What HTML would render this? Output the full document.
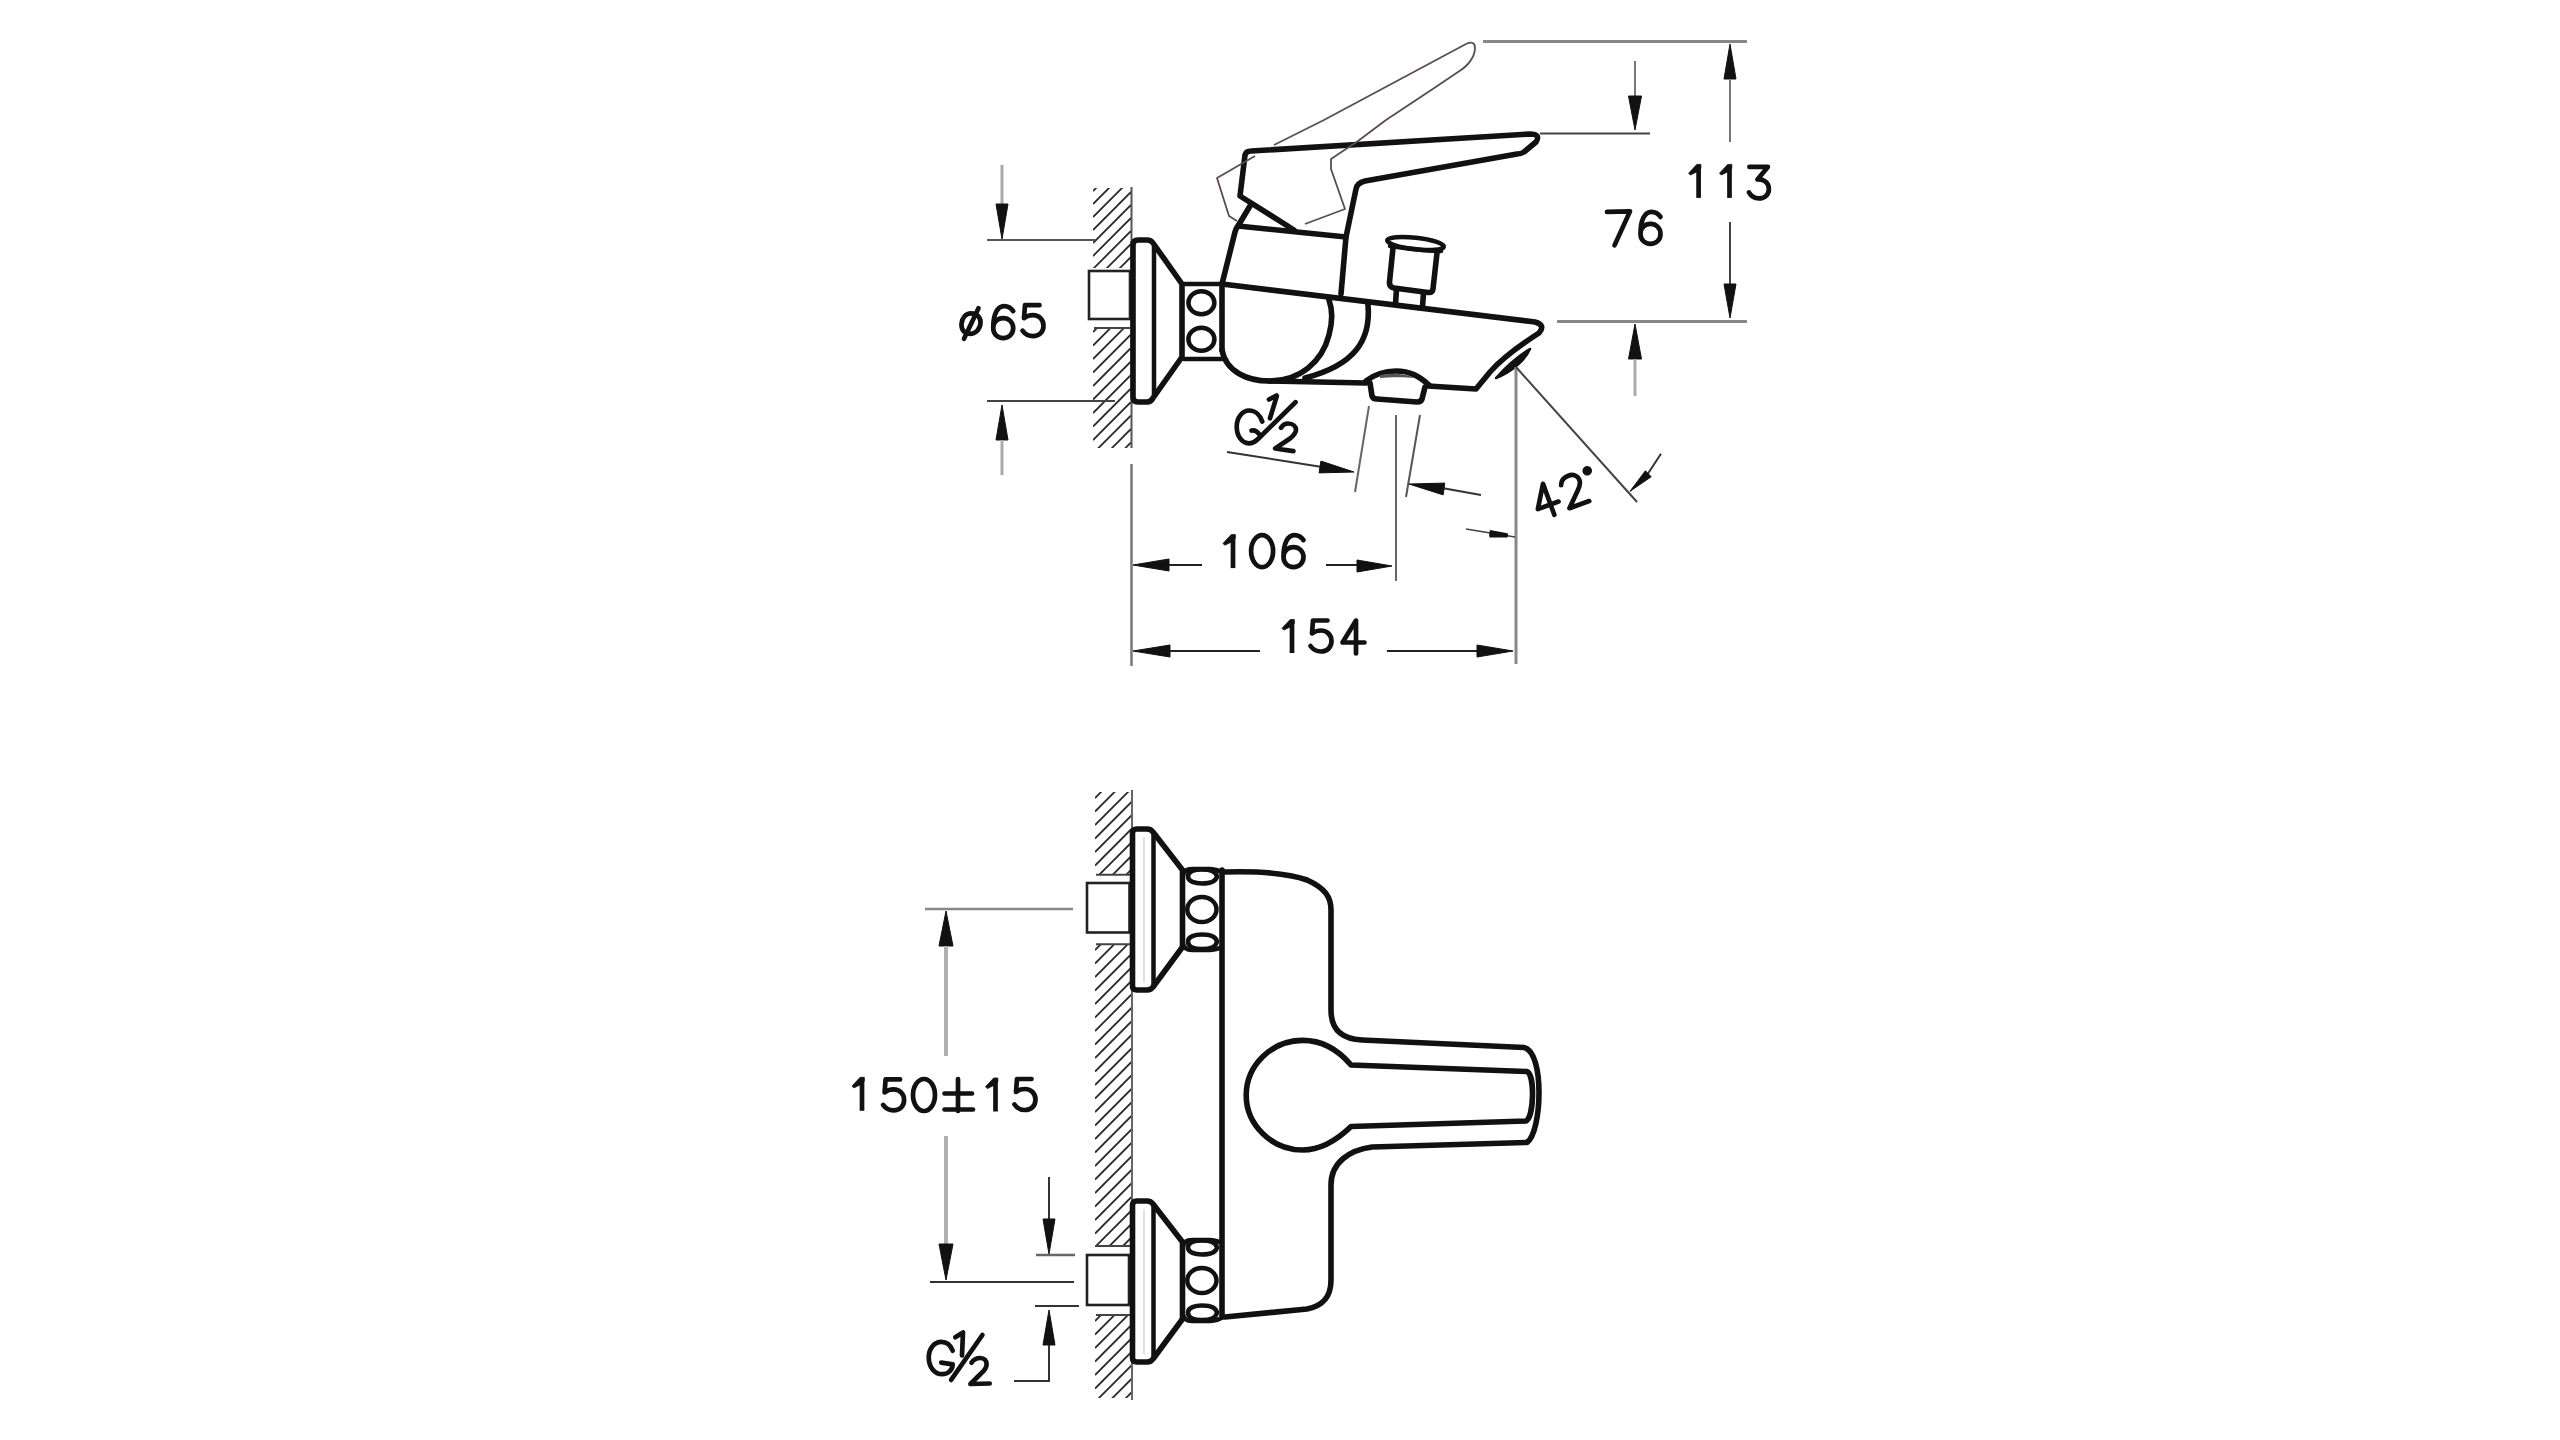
<!DOCTYPE html>
<html><head><meta charset="utf-8"><style>
html,body{margin:0;padding:0;background:#fff;width:2560px;height:1440px;overflow:hidden}
svg{display:block}
</style></head><body>
<svg width="2560" height="1440" viewBox="0 0 2560 1440">
<rect width="2560" height="1440" fill="#fff"/>
<clipPath id="hc1"><rect x="1093" y="188" width="38" height="80"/></clipPath>
<g clip-path="url(#hc1)" stroke="#2a2a2a" stroke-width="1.8"><line x1="1093" y1="191.0" x2="1131" y2="153.0"/><line x1="1093" y1="204.0" x2="1131" y2="166.0"/><line x1="1093" y1="217.0" x2="1131" y2="179.0"/><line x1="1093" y1="230.0" x2="1131" y2="192.0"/><line x1="1093" y1="243.0" x2="1131" y2="205.0"/><line x1="1093" y1="256.0" x2="1131" y2="218.0"/><line x1="1093" y1="269.0" x2="1131" y2="231.0"/><line x1="1093" y1="282.0" x2="1131" y2="244.0"/><line x1="1093" y1="295.0" x2="1131" y2="257.0"/></g>
<clipPath id="hc2"><rect x="1093" y="328" width="38" height="120"/></clipPath>
<g clip-path="url(#hc2)" stroke="#2a2a2a" stroke-width="1.8"><line x1="1093" y1="332.0" x2="1131" y2="294.0"/><line x1="1093" y1="345.5" x2="1131" y2="307.5"/><line x1="1093" y1="359.0" x2="1131" y2="321.0"/><line x1="1093" y1="372.5" x2="1131" y2="334.5"/><line x1="1093" y1="386.0" x2="1131" y2="348.0"/><line x1="1093" y1="399.5" x2="1131" y2="361.5"/><line x1="1093" y1="413.0" x2="1131" y2="375.0"/><line x1="1093" y1="426.5" x2="1131" y2="388.5"/><line x1="1093" y1="440.0" x2="1131" y2="402.0"/><line x1="1093" y1="453.5" x2="1131" y2="415.5"/><line x1="1093" y1="467.0" x2="1131" y2="429.0"/><line x1="1093" y1="480.5" x2="1131" y2="442.5"/></g>
<line x1="1131.5" y1="187" x2="1131.5" y2="448" stroke="#555" stroke-width="2"/>
<line x1="1094" y1="328" x2="1130" y2="328" stroke="#444" stroke-width="2"/>
<rect x="1089" y="271" width="41" height="48" fill="none" stroke="#222" stroke-width="2.6"/>
<path d="M1133,245 Q1133,240 1138,240 L1147,240 Q1151,240 1153,243 L1182,284 L1182,357 L1153,398 Q1151,402 1147,402 L1138,402 Q1133,402 1133,397 Z" fill="none" stroke="#111" stroke-width="5.6" stroke-linejoin="round" stroke-linecap="round"/>
<path d="M1154,246 L1154,396" fill="none" stroke="#111" stroke-width="4.5" stroke-linejoin="round" stroke-linecap="round"/>
<path d="M1184,284 L1222,284 M1184,359 L1222,359" fill="none" stroke="#111" stroke-width="4.5" stroke-linejoin="round" stroke-linecap="round"/>
<ellipse cx="1201.4" cy="302.8" rx="13" ry="11.5" fill="none" stroke="#111" stroke-width="4.5" stroke-linejoin="round" stroke-linecap="round"/>
<ellipse cx="1201.4" cy="339.3" rx="13" ry="11.5" fill="none" stroke="#111" stroke-width="4.5" stroke-linejoin="round" stroke-linecap="round"/>
<path d="M1250,206 L1238,226 Q1236,228 1235,232 L1222,284 L1222,350" fill="none" stroke="#111" stroke-width="5.6" stroke-linejoin="round" stroke-linecap="round"/>
<path d="M1238,226 L1346,237" fill="none" stroke="#111" stroke-width="5.6" stroke-linejoin="round" stroke-linecap="round"/>
<path d="M1294,230 L1240,196 L1245,155 Q1246,151 1251,151 L1530,134 Q1541,134 1536,142 L1524,152 Q1521,154 1517,154 L1365,181 Q1357,183 1356,189 L1346,237 L1341,294" fill="none" stroke="#111" stroke-width="5.6" stroke-linejoin="round" stroke-linecap="round"/>
<path d="M1222,284 L1535,322 Q1546,325 1539,333 C1525,342 1505,355 1490,372 L1476,389 L1428,386" fill="none" stroke="#111" stroke-width="5.6" stroke-linejoin="round" stroke-linecap="round"/>
<path d="M1366,383 L1269,381" fill="none" stroke="#111" stroke-width="5.6" stroke-linejoin="round" stroke-linecap="round"/>
<path d="M1222,350 C1226,372 1248,381 1269,381 C1300,381 1322,362 1329,335 C1333,320 1332,308 1329,300" fill="none" stroke="#111" stroke-width="5.6" stroke-linejoin="round" stroke-linecap="round"/>
<path d="M1368,305 C1371,340 1355,365 1305,378" fill="none" stroke="#111" stroke-width="5.6" stroke-linejoin="round" stroke-linecap="round"/>
<path d="M1366,381 C1375,374 1385,371 1396,371 C1410,371 1419,376 1429,385" fill="none" stroke="#111" stroke-width="5.6" stroke-linejoin="round" stroke-linecap="round"/>
<path d="M1380,375 C1390,373 1405,373 1415,378 C1405,377 1390,377 1380,378Z" fill="#555"/>
<path d="M1370,383 L1372,396 Q1373,399 1377,399 L1417,402 Q1421,402 1422,399 L1425,387" fill="none" stroke="#111" stroke-width="5.6" stroke-linejoin="round" stroke-linecap="round"/>
<ellipse cx="1415.5" cy="243.5" rx="28.5" ry="5.8" transform="rotate(6.5 1415.5 243.5)" fill="none" stroke="#111" stroke-width="4.5" stroke-linejoin="round" stroke-linecap="round" stroke-width="3.4"/>
<path d="M1390,246 C1405,248 1425,251 1441,251" fill="none" stroke="#111" stroke-width="4.5" stroke-linejoin="round" stroke-linecap="round" stroke-width="3"/>
<path d="M1393,248 L1389.5,282 Q1389,287 1394,288 L1428,292.5 Q1432.5,293 1433,289 L1437,253" fill="none" stroke="#111" stroke-width="5.6" stroke-linejoin="round" stroke-linecap="round" stroke-width="5.8"/>
<path d="M1396.5,289 L1395.5,304 M1423.5,293 L1422.5,307" fill="none" stroke="#111" stroke-width="5.6" stroke-linejoin="round" stroke-linecap="round" stroke-width="5.8"/>
<path d="M1496,378 C1505,368 1518,356 1530,349 C1525,360 1512,372 1496,378 Z" fill="#111" stroke="#111" stroke-width="2.5" stroke-linejoin="round"/>
<path d="M1274,145 L1324,120 L1466,44 Q1475,40 1475,48 C1475,57 1468,66 1458,72 L1435,87.5 L1386,120 L1358,141 L1331,159 L1331,169 L1345,209 L1305,224" fill="none" stroke="#5c4c4c" stroke-width="1.8" stroke-linejoin="round"/>
<path d="M1255,156 L1217,178 L1229,216 L1237,221" fill="none" stroke="#5c4c4c" stroke-width="1.8" stroke-linejoin="round"/>
<line x1="987" y1="240" x2="1095" y2="240" stroke="#555" stroke-width="2"/>
<line x1="987" y1="401" x2="1115" y2="401" stroke="#444" stroke-width="2"/>
<line x1="1002" y1="165" x2="1002" y2="205" stroke="#aaa" stroke-width="3"/>
<path d="M1002.0,239.0 L996.0,204.0 L1008.0,204.0Z" fill="#111" stroke="#111" stroke-width="1" stroke-linejoin="round"/>
<path d="M1002.0,405.0 L1008.0,440.0 L996.0,440.0Z" fill="#111" stroke="#111" stroke-width="1" stroke-linejoin="round"/>
<line x1="1002" y1="440" x2="1002" y2="475" stroke="#aaa" stroke-width="3"/>
<line x1="1483" y1="41.5" x2="1747" y2="41.5" stroke="#888" stroke-width="3"/>
<path d="M1730.0,44.0 L1736.0,79.0 L1724.0,79.0Z" fill="#111" stroke="#111" stroke-width="1" stroke-linejoin="round"/>
<line x1="1730" y1="80" x2="1730" y2="142" stroke="#777" stroke-width="2"/>
<line x1="1730" y1="222" x2="1730" y2="284" stroke="#444" stroke-width="2"/>
<path d="M1730.0,318.0 L1724.0,284.0 L1736.0,284.0Z" fill="#111" stroke="#111" stroke-width="1" stroke-linejoin="round"/>
<line x1="1557" y1="321.5" x2="1747" y2="321.5" stroke="#888" stroke-width="3"/>
<line x1="1540" y1="133.6" x2="1650" y2="133.6" stroke="#444" stroke-width="2"/>
<line x1="1635" y1="61" x2="1635" y2="96" stroke="#777" stroke-width="2"/>
<path d="M1635.0,130.0 L1628.5,96.0 L1641.5,96.0Z" fill="#111" stroke="#111" stroke-width="1" stroke-linejoin="round"/>
<path d="M1635.0,324.0 L1641.5,359.0 L1628.5,359.0Z" fill="#111" stroke="#111" stroke-width="1" stroke-linejoin="round"/>
<line x1="1635" y1="359" x2="1635" y2="396" stroke="#aaa" stroke-width="3"/>
<line x1="1227" y1="452" x2="1322" y2="467" stroke="#333" stroke-width="2"/>
<path d="M1354.0,472.0 L1319.1,472.9 L1320.9,461.1Z" fill="#111" stroke="#111" stroke-width="1" stroke-linejoin="round"/>
<line x1="1369" y1="406" x2="1355" y2="492" stroke="#666" stroke-width="2"/>
<line x1="1420" y1="415" x2="1406" y2="497" stroke="#555" stroke-width="2"/>
<line x1="1481" y1="495" x2="1442" y2="488" stroke="#333" stroke-width="2"/>
<path d="M1409.0,484.0 L1444.8,483.1 L1443.2,494.9Z" fill="#111" stroke="#111" stroke-width="1" stroke-linejoin="round"/>
<line x1="1396" y1="415" x2="1396" y2="581" stroke="#666" stroke-width="2"/>
<line x1="1131.5" y1="464" x2="1131.5" y2="666" stroke="#777" stroke-width="2.5"/>
<line x1="1516" y1="367" x2="1516" y2="664" stroke="#888" stroke-width="3"/>
<line x1="1516" y1="367" x2="1637" y2="502" stroke="#444" stroke-width="2"/>
<path d="M1133.0,565.0 L1169.0,559.0 L1169.0,571.0Z" fill="#111" stroke="#111" stroke-width="1" stroke-linejoin="round"/>
<line x1="1169" y1="565" x2="1202" y2="565" stroke="#222" stroke-width="2"/>
<line x1="1326" y1="565" x2="1357" y2="565" stroke="#222" stroke-width="2"/>
<path d="M1392.0,566.0 L1357.0,572.0 L1357.0,560.0Z" fill="#111" stroke="#111" stroke-width="1" stroke-linejoin="round"/>
<path d="M1133.0,651.0 L1170.0,645.0 L1170.0,657.0Z" fill="#111" stroke="#111" stroke-width="1" stroke-linejoin="round"/>
<line x1="1170" y1="651" x2="1260" y2="651" stroke="#222" stroke-width="2"/>
<line x1="1387" y1="651" x2="1477" y2="651" stroke="#222" stroke-width="2"/>
<path d="M1513.0,651.0 L1477.0,657.0 L1477.0,645.0Z" fill="#111" stroke="#111" stroke-width="1" stroke-linejoin="round"/>
<line x1="1466" y1="529" x2="1515" y2="537" stroke="#444" stroke-width="1.6"/>
<path d="M1490,530 L1507.5,533.2 Q1509,535 1507.5,537.6 L1489.5,537.6 Q1488.5,534 1490,530 Z" fill="#111"/>
<line x1="1661" y1="453.8" x2="1647" y2="475" stroke="#333" stroke-width="2"/>
<path d="M1630.0,491.3 L1645.4,470.8 L1651.2,476.8Z" fill="#111" stroke="#111" stroke-width="1" stroke-linejoin="round"/>
<clipPath id="hc3"><rect x="1095" y="792" width="37" height="83"/></clipPath>
<g clip-path="url(#hc3)" stroke="#2a2a2a" stroke-width="1.8"><line x1="1095" y1="798.0" x2="1132" y2="761.0"/><line x1="1095" y1="811.5" x2="1132" y2="774.5"/><line x1="1095" y1="825.0" x2="1132" y2="788.0"/><line x1="1095" y1="838.5" x2="1132" y2="801.5"/><line x1="1095" y1="852.0" x2="1132" y2="815.0"/><line x1="1095" y1="865.5" x2="1132" y2="828.5"/><line x1="1095" y1="879.0" x2="1132" y2="842.0"/><line x1="1095" y1="892.5" x2="1132" y2="855.5"/><line x1="1095" y1="906.0" x2="1132" y2="869.0"/></g>
<clipPath id="hc4"><rect x="1095" y="944" width="37" height="303"/></clipPath>
<g clip-path="url(#hc4)" stroke="#2a2a2a" stroke-width="1.8"><line x1="1095" y1="950.0" x2="1132" y2="913.0"/><line x1="1095" y1="963.5" x2="1132" y2="926.5"/><line x1="1095" y1="977.0" x2="1132" y2="940.0"/><line x1="1095" y1="990.5" x2="1132" y2="953.5"/><line x1="1095" y1="1004.0" x2="1132" y2="967.0"/><line x1="1095" y1="1017.5" x2="1132" y2="980.5"/><line x1="1095" y1="1031.0" x2="1132" y2="994.0"/><line x1="1095" y1="1044.5" x2="1132" y2="1007.5"/><line x1="1095" y1="1058.0" x2="1132" y2="1021.0"/><line x1="1095" y1="1071.5" x2="1132" y2="1034.5"/><line x1="1095" y1="1085.0" x2="1132" y2="1048.0"/><line x1="1095" y1="1098.5" x2="1132" y2="1061.5"/><line x1="1095" y1="1112.0" x2="1132" y2="1075.0"/><line x1="1095" y1="1125.5" x2="1132" y2="1088.5"/><line x1="1095" y1="1139.0" x2="1132" y2="1102.0"/><line x1="1095" y1="1152.5" x2="1132" y2="1115.5"/><line x1="1095" y1="1166.0" x2="1132" y2="1129.0"/><line x1="1095" y1="1179.5" x2="1132" y2="1142.5"/><line x1="1095" y1="1193.0" x2="1132" y2="1156.0"/><line x1="1095" y1="1206.5" x2="1132" y2="1169.5"/><line x1="1095" y1="1220.0" x2="1132" y2="1183.0"/><line x1="1095" y1="1233.5" x2="1132" y2="1196.5"/><line x1="1095" y1="1247.0" x2="1132" y2="1210.0"/><line x1="1095" y1="1260.5" x2="1132" y2="1223.5"/><line x1="1095" y1="1274.0" x2="1132" y2="1237.0"/></g>
<clipPath id="hc5"><rect x="1095" y="1315" width="37" height="83"/></clipPath>
<g clip-path="url(#hc5)" stroke="#2a2a2a" stroke-width="1.8"><line x1="1095" y1="1321.0" x2="1132" y2="1284.0"/><line x1="1095" y1="1334.5" x2="1132" y2="1297.5"/><line x1="1095" y1="1348.0" x2="1132" y2="1311.0"/><line x1="1095" y1="1361.5" x2="1132" y2="1324.5"/><line x1="1095" y1="1375.0" x2="1132" y2="1338.0"/><line x1="1095" y1="1388.5" x2="1132" y2="1351.5"/><line x1="1095" y1="1402.0" x2="1132" y2="1365.0"/><line x1="1095" y1="1415.5" x2="1132" y2="1378.5"/><line x1="1095" y1="1429.0" x2="1132" y2="1392.0"/></g>
<line x1="1132" y1="790" x2="1132" y2="1400" stroke="#666" stroke-width="2"/>
<line x1="1096" y1="874.7" x2="1130" y2="874.7" stroke="#444" stroke-width="2"/>
<line x1="1096" y1="944.3" x2="1130" y2="944.3" stroke="#444" stroke-width="2"/>
<line x1="1096" y1="1246" x2="1130" y2="1246" stroke="#444" stroke-width="2"/>
<line x1="1096" y1="1315" x2="1130" y2="1315" stroke="#444" stroke-width="2"/>
<rect x="1087" y="883" width="42.5" height="49.5" fill="none" stroke="#222" stroke-width="2.6"/>
<rect x="1087" y="1255" width="42" height="50" fill="none" stroke="#222" stroke-width="2.6"/>
<path d="M1132.5,833 Q1132.5,829 1137,829 L1147,829 Q1151,829 1153,832 L1182.5,870 L1182.5,947 L1153,987 Q1151,990 1147,990 L1137,990 Q1132.5,990 1132.5,986 Z" fill="none" stroke="#111" stroke-width="5.6" stroke-linejoin="round" stroke-linecap="round"/>
<path d="M1153.5,833 L1153.5,986" fill="none" stroke="#111" stroke-width="4.5" stroke-linejoin="round" stroke-linecap="round"/>
<line x1="1144" y1="837" x2="1144" y2="982" stroke="#ccc" stroke-width="1.2"/>
<path d="M1132.5,1205 Q1132.5,1201 1137,1201 L1147,1201 Q1151,1201 1153,1204 L1182.5,1242 L1182.5,1319 L1153,1359 Q1151,1362 1147,1362 L1137,1362 Q1132.5,1362 1132.5,1358 Z" fill="none" stroke="#111" stroke-width="5.6" stroke-linejoin="round" stroke-linecap="round"/>
<path d="M1153.5,1205 L1153.5,1358" fill="none" stroke="#111" stroke-width="4.5" stroke-linejoin="round" stroke-linecap="round"/>
<line x1="1144" y1="1209" x2="1144" y2="1354" stroke="#ccc" stroke-width="1.2"/>
<path d="M1183,875.5 Q1184,869.0 1192,869.0 L1210,869.0 Q1218,869.5 1222,872.5" fill="none" stroke="#111" stroke-width="4.5" stroke-linejoin="round" stroke-linecap="round"/>
<path d="M1183,943.5 Q1184,950.0 1192,950.0 L1210,950.0 Q1218,949.5 1222,946.5" fill="none" stroke="#111" stroke-width="4.5" stroke-linejoin="round" stroke-linecap="round"/>
<path d="M1188,876.5 C1188,870.5 1195,869.5 1202,869.5 C1210,869.5 1216,871.5 1217,876.5 C1216,881.5 1209,883.5 1202,883.5 C1195,883.5 1188,881.5 1188,876.5 Z" fill="none" stroke="#111" stroke-width="4.5" stroke-linejoin="round" stroke-linecap="round" stroke-width="4"/>
<ellipse cx="1201.9" cy="909.5" rx="14.6" ry="12.5" fill="none" stroke="#111" stroke-width="4.5" stroke-linejoin="round" stroke-linecap="round" stroke-width="4"/>
<path d="M1188,941.5 C1188,936.5 1195,934.5 1202,934.5 C1209,934.5 1216,936.5 1217,941.5 C1216,947.5 1210,949.0 1202,949.0 C1195,949.0 1188,947.5 1188,941.5 Z" fill="none" stroke="#111" stroke-width="4.5" stroke-linejoin="round" stroke-linecap="round" stroke-width="4"/>
<path d="M1183,1246.5 Q1184,1240.0 1192,1240.0 L1210,1240.0 Q1218,1240.5 1222,1243.5" fill="none" stroke="#111" stroke-width="4.5" stroke-linejoin="round" stroke-linecap="round"/>
<path d="M1183,1314.5 Q1184,1321.0 1192,1321.0 L1210,1321.0 Q1218,1320.5 1222,1317.5" fill="none" stroke="#111" stroke-width="4.5" stroke-linejoin="round" stroke-linecap="round"/>
<path d="M1188,1247.5 C1188,1241.5 1195,1240.5 1202,1240.5 C1210,1240.5 1216,1242.5 1217,1247.5 C1216,1252.5 1209,1254.5 1202,1254.5 C1195,1254.5 1188,1252.5 1188,1247.5 Z" fill="none" stroke="#111" stroke-width="4.5" stroke-linejoin="round" stroke-linecap="round" stroke-width="4"/>
<ellipse cx="1201.9" cy="1280.5" rx="14.6" ry="12.5" fill="none" stroke="#111" stroke-width="4.5" stroke-linejoin="round" stroke-linecap="round" stroke-width="4"/>
<path d="M1188,1312.5 C1188,1307.5 1195,1305.5 1202,1305.5 C1209,1305.5 1216,1307.5 1217,1312.5 C1216,1318.5 1210,1320.0 1202,1320.0 C1195,1320.0 1188,1318.5 1188,1312.5 Z" fill="none" stroke="#111" stroke-width="4.5" stroke-linejoin="round" stroke-linecap="round" stroke-width="4"/>
<path d="M1222,870 L1222,1317" fill="none" stroke="#111" stroke-width="5.6" stroke-linejoin="round" stroke-linecap="round"/>
<path d="M1225,872 C1260,871 1290,874 1307,880 C1325,888 1331,897 1331,910 L1331,1010 C1331,1030 1342,1039 1362,1040 L1524,1047.5 C1545,1052 1542,1132 1527,1142.4 L1372,1147 C1350,1150 1331,1162 1331,1185 L1331,1280 C1331,1298 1322,1306 1307,1309 L1225,1317" fill="none" stroke="#111" stroke-width="5.6" stroke-linejoin="round" stroke-linecap="round" stroke-width="5.5"/>
<path d="M1351,1065 L1527,1071.5 C1535,1075 1534,1117 1526,1121 L1351,1126.5 C1335,1142 1320,1150 1302.6,1150 C1272,1150 1246.2,1125 1246.2,1095.3 C1246.2,1065 1272,1040.4 1302.6,1040.4 C1325,1040.4 1340,1052 1351,1065 Z" fill="none" stroke="#111" stroke-width="5.6" stroke-linejoin="round" stroke-linecap="round" stroke-width="5.5"/>
<line x1="925" y1="909" x2="1073" y2="909" stroke="#888" stroke-width="2.5"/>
<path d="M946.0,911.0 L953.0,946.0 L939.0,946.0Z" fill="#111" stroke="#111" stroke-width="1" stroke-linejoin="round"/>
<line x1="946" y1="946" x2="946" y2="1056" stroke="#b0b0b0" stroke-width="4"/>
<line x1="946" y1="1136" x2="946" y2="1244" stroke="#b0b0b0" stroke-width="4"/>
<path d="M946.0,1280.0 L939.0,1244.0 L953.0,1244.0Z" fill="#111" stroke="#111" stroke-width="1" stroke-linejoin="round"/>
<line x1="930" y1="1282" x2="1074" y2="1282" stroke="#333" stroke-width="2"/>
<line x1="1049" y1="1177" x2="1049" y2="1219" stroke="#333" stroke-width="2"/>
<path d="M1049.0,1254.0 L1043.0,1219.0 L1055.0,1219.0Z" fill="#111" stroke="#111" stroke-width="1" stroke-linejoin="round"/>
<line x1="1036" y1="1255" x2="1075" y2="1255" stroke="#666" stroke-width="2.5"/>
<line x1="1035" y1="1306" x2="1079" y2="1306" stroke="#333" stroke-width="2"/>
<path d="M1049.0,1310.0 L1055.0,1345.0 L1043.0,1345.0Z" fill="#111" stroke="#111" stroke-width="1" stroke-linejoin="round"/>
<line x1="1049" y1="1345" x2="1049" y2="1381" stroke="#333" stroke-width="2"/>
<line x1="1014" y1="1381" x2="1050" y2="1381" stroke="#333" stroke-width="2"/>
<g transform="translate(1688.6,164.4) scale(1.0,1.0)"><path d="M10,1.5 L10,33.5" fill="none" stroke="#111" stroke-width="4.7" stroke-linejoin="round" stroke-linecap="butt"/><path d="M0,8.8 L8.2,0 L12.3,0 L12.3,4 L8,7.6 L1.8,10.6 Z" fill="#111" stroke="#111" stroke-width="0.8" stroke-linejoin="round"/></g>
<g transform="translate(1719.5,164.4) scale(1.0,1.0)"><path d="M10,1.5 L10,33.5" fill="none" stroke="#111" stroke-width="4.7" stroke-linejoin="round" stroke-linecap="butt"/><path d="M0,8.8 L8.2,0 L12.3,0 L12.3,4 L8,7.6 L1.8,10.6 Z" fill="#111" stroke="#111" stroke-width="0.8" stroke-linejoin="round"/></g>
<path transform="translate(1746.4,164.4) scale(1.0,1.0)" d="M3,2.5 L21.5,2.5 L11,15 C18.5,14.5 22.5,19.5 22.5,24.5 C22.5,30.5 18,34 12.5,34 C8,34 4.5,31.5 2.5,28" fill="none" stroke="#111" stroke-width="4.7" stroke-linejoin="round" stroke-linecap="round" />
<path transform="translate(1604.5,209.4) scale(1.0,1.0)" d="M2.5,2.5 L25.5,2 L10,36" fill="none" stroke="#111" stroke-width="4.7" stroke-linejoin="round" stroke-linecap="round" />
<path transform="translate(1638,209.4) scale(1.0,1.0)" d="M2.5,24.5 C2.5,30.5 7,34.5 12.5,34.5 C18,34.5 22.5,30.5 22.5,24.5 C22.5,18.5 18,14.5 12.5,14.5 C7,14.5 2.5,18.5 2.5,24.5 C2.5,10 7,2.5 13.5,2.5 C17.5,2.5 20.5,4.5 22.5,7.5" fill="none" stroke="#111" stroke-width="4.7" stroke-linejoin="round" stroke-linecap="round" />
<path transform="translate(959,307.8) scale(1.0,1.0)" d="M12,5.5 C18,5.5 22,9.5 21.5,15.5 C21,21.5 16.5,26 11,26 C5.5,26 2,22 2.5,16 C3,10 7,5.5 12,5.5 Z M19.5,0.5 L5,31" fill="none" stroke="#111" stroke-width="4.7" stroke-linejoin="round" stroke-linecap="round" />
<path transform="translate(990.7,303.6) scale(1.0,1.0)" d="M2.5,24.5 C2.5,30.5 7,34.5 12.5,34.5 C18,34.5 22.5,30.5 22.5,24.5 C22.5,18.5 18,14.5 12.5,14.5 C7,14.5 2.5,18.5 2.5,24.5 C2.5,10 7,2.5 13.5,2.5 C17.5,2.5 20.5,4.5 22.5,7.5" fill="none" stroke="#111" stroke-width="4.7" stroke-linejoin="round" stroke-linecap="round" />
<path transform="translate(1020,302.7) scale(1.0,1.0)" d="M19.5,2.5 L5,2.5 L4,15.5 C6.5,13.5 9.5,12.5 13,12.5 C19,12.5 23.5,17 23.5,23 C23.5,29.5 19,33.5 13,33.5 C8.5,33.5 5,31.5 2.5,28" fill="none" stroke="#111" stroke-width="4.7" stroke-linejoin="round" stroke-linecap="round" />
<g transform="translate(1223,534.6) scale(1.0,1.0)"><path d="M10,1.5 L10,33.5" fill="none" stroke="#111" stroke-width="4.7" stroke-linejoin="round" stroke-linecap="butt"/><path d="M0,8.8 L8.2,0 L12.3,0 L12.3,4 L8,7.6 L1.8,10.6 Z" fill="#111" stroke="#111" stroke-width="0.8" stroke-linejoin="round"/></g>
<path transform="translate(1248.6,532.6) scale(1.0,1.0)" d="M13.5,2.5 C19.5,2.5 24.5,9.5 24.5,18.5 C24.5,27.5 19.5,34.5 13.5,34.5 C7.5,34.5 2.5,27.5 2.5,18.5 C2.5,9.5 7.5,2.5 13.5,2.5 Z" fill="none" stroke="#111" stroke-width="4.7" stroke-linejoin="round" stroke-linecap="round" />
<path transform="translate(1281,532.6) scale(1.0,1.0)" d="M2.5,24.5 C2.5,30.5 7,34.5 12.5,34.5 C18,34.5 22.5,30.5 22.5,24.5 C22.5,18.5 18,14.5 12.5,14.5 C7,14.5 2.5,18.5 2.5,24.5 C2.5,10 7,2.5 13.5,2.5 C17.5,2.5 20.5,4.5 22.5,7.5" fill="none" stroke="#111" stroke-width="4.7" stroke-linejoin="round" stroke-linecap="round" />
<g transform="translate(1282,619.5) scale(1.0,1.0)"><path d="M10,1.5 L10,33.5" fill="none" stroke="#111" stroke-width="4.7" stroke-linejoin="round" stroke-linecap="butt"/><path d="M0,8.8 L8.2,0 L12.3,0 L12.3,4 L8,7.6 L1.8,10.6 Z" fill="#111" stroke="#111" stroke-width="0.8" stroke-linejoin="round"/></g>
<path transform="translate(1308,618) scale(1.0,1.0)" d="M19.5,2.5 L5,2.5 L4,15.5 C6.5,13.5 9.5,12.5 13,12.5 C19,12.5 23.5,17 23.5,23 C23.5,29.5 19,33.5 13,33.5 C8.5,33.5 5,31.5 2.5,28" fill="none" stroke="#111" stroke-width="4.7" stroke-linejoin="round" stroke-linecap="round" />
<path transform="translate(1340,618.5) scale(1.0,1.0)" d="M16,35 L16,2 L2.5,24 L24.5,24" fill="none" stroke="#111" stroke-width="4.7" stroke-linejoin="round" stroke-linecap="round" />
<g transform="translate(852,1077.3) scale(1.0,1.0)"><path d="M10,1.5 L10,33.5" fill="none" stroke="#111" stroke-width="4.7" stroke-linejoin="round" stroke-linecap="butt"/><path d="M0,8.8 L8.2,0 L12.3,0 L12.3,4 L8,7.6 L1.8,10.6 Z" fill="#111" stroke="#111" stroke-width="0.8" stroke-linejoin="round"/></g>
<path transform="translate(880.6,1076.9) scale(1.0,1.0)" d="M19.5,2.5 L5,2.5 L4,15.5 C6.5,13.5 9.5,12.5 13,12.5 C19,12.5 23.5,17 23.5,23 C23.5,29.5 19,33.5 13,33.5 C8.5,33.5 5,31.5 2.5,28" fill="none" stroke="#111" stroke-width="4.7" stroke-linejoin="round" stroke-linecap="round" />
<path transform="translate(910.5,1076.5) scale(1.0,1.0)" d="M13.5,2.5 C19.5,2.5 24.5,9.5 24.5,18.5 C24.5,27.5 19.5,34.5 13.5,34.5 C7.5,34.5 2.5,27.5 2.5,18.5 C2.5,9.5 7.5,2.5 13.5,2.5 Z" fill="none" stroke="#111" stroke-width="4.7" stroke-linejoin="round" stroke-linecap="round" />
<path transform="translate(944,1078) scale(1.0,1.0)" d="M14,1 L14,33 M0.5,15.5 L28,15.5 M0.5,31.5 L29,31.5" fill="none" stroke="#111" stroke-width="4.7" stroke-linejoin="round" stroke-linecap="round" />
<g transform="translate(985.5,1078) scale(1.0,1.0)"><path d="M10,1.5 L10,33.5" fill="none" stroke="#111" stroke-width="4.7" stroke-linejoin="round" stroke-linecap="butt"/><path d="M0,8.8 L8.2,0 L12.3,0 L12.3,4 L8,7.6 L1.8,10.6 Z" fill="#111" stroke="#111" stroke-width="0.8" stroke-linejoin="round"/></g>
<path transform="translate(1012,1076.5) scale(1.0,1.0)" d="M19.5,2.5 L5,2.5 L4,15.5 C6.5,13.5 9.5,12.5 13,12.5 C19,12.5 23.5,17 23.5,23 C23.5,29.5 19,33.5 13,33.5 C8.5,33.5 5,31.5 2.5,28" fill="none" stroke="#111" stroke-width="4.7" stroke-linejoin="round" stroke-linecap="round" />
<g transform="translate(1527.3,487.4) rotate(-20)">
<path transform="translate(0,0) scale(1.0,1.0)" d="M16,35 L16,2 L2.5,24 L24.5,24" fill="none" stroke="#111" stroke-width="4.7" stroke-linejoin="round" stroke-linecap="round" />
<path transform="translate(29.5,0.5) scale(1.0,1.0)" d="M3,9 C4.5,5 8.5,2.5 13,2.5 C18.5,2.5 22,6 22,10.5 C22,14 20,16.5 17,19.5 L3,33.5 L24,33.5" fill="none" stroke="#111" stroke-width="4.7" stroke-linejoin="round" stroke-linecap="round" />
<circle cx="62" cy="4.9" r="4.8" fill="#111"/>
</g>
<path d="M1262.2,421.5 C1260,415 1255,410.5 1249.2,410.5 C1242,410.5 1236.7,418 1236.7,426.7 C1236.7,436 1242,443.3 1248.6,443.3 C1252,443.3 1255,442 1258,439 L1295.5,402.2 M1251.5,430.5 C1254,430 1257,431 1259,434" fill="none" stroke="#111" stroke-width="4.7" stroke-linejoin="round" stroke-linecap="round" stroke-width="4.8"/>
<path d="M1276.8,396 L1270,418.3 M1269,399.5 L1276.5,395.5 M1281,427.7 C1283,424.5 1285,423.5 1288,423.5 C1293,423.5 1296,426.5 1296,430 C1296,433 1293,436 1290,438.5 L1275.2,448.5 L1293.4,451.1" fill="none" stroke="#111" stroke-width="4.7" stroke-linejoin="round" stroke-linecap="round" stroke-width="4.8"/>
<path d="M952.7,1350.7 C950.5,1345 946,1341.9 941.25,1341.9 C934,1341.9 928.75,1349 928.75,1357.5 C928.75,1367 934.5,1374.2 942.3,1374.2 C948,1374.2 952.7,1370 952.7,1364.3 L941.25,1362.7 M982.4,1335 L951.1,1379.9" fill="none" stroke="#111" stroke-width="4.7" stroke-linejoin="round" stroke-linecap="round" stroke-width="4.8"/>
<path d="M963,1332.5 L962,1355.4 M955.3,1337.2 L963,1332.5 M971.5,1362.7 C973.5,1359.5 976.5,1358 980.3,1358 C984.5,1358 986.6,1361 986.6,1364.3 C986.6,1368 984,1371 981,1373.5 L970.4,1384 L989.7,1383.5" fill="none" stroke="#111" stroke-width="4.7" stroke-linejoin="round" stroke-linecap="round" stroke-width="4.8"/>
</svg>
</body></html>
